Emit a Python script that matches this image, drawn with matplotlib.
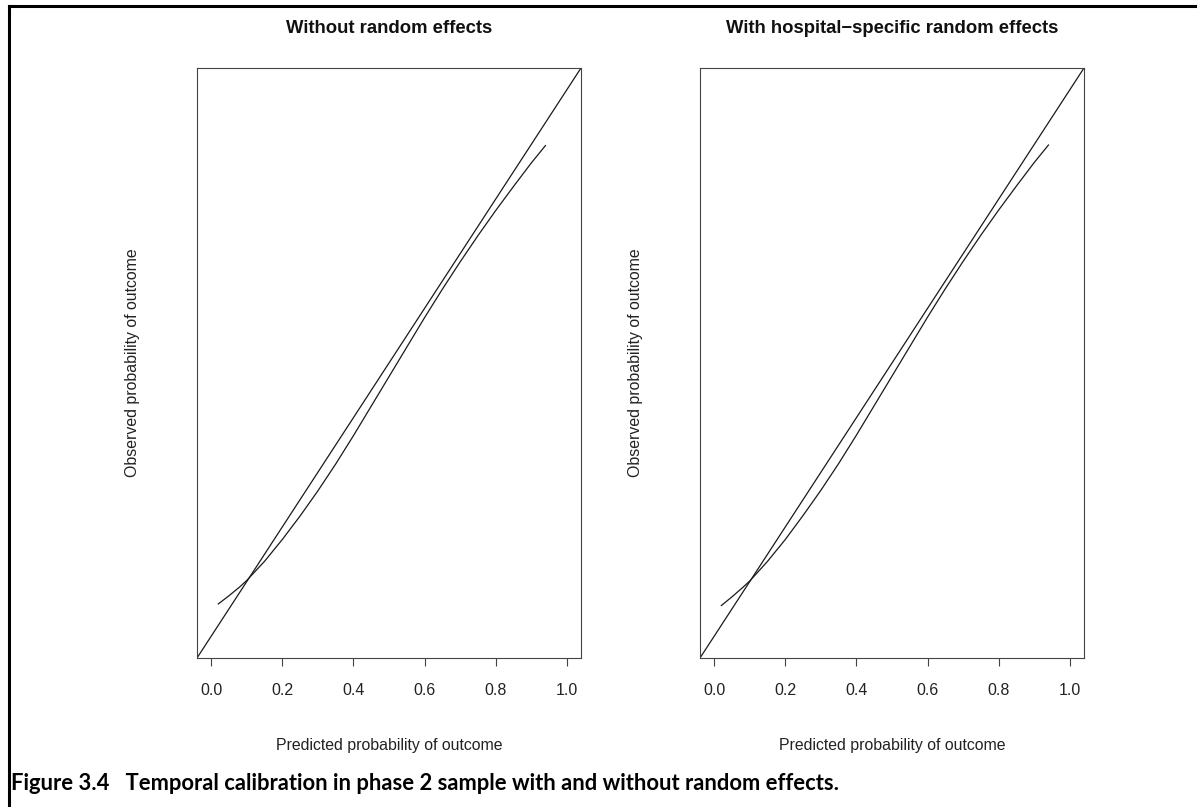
import numpy as np
import matplotlib
matplotlib.use("Agg")
import matplotlib.pyplot as plt
from matplotlib.lines import Line2D

# smoothed calibration curves (predicted vs observed probability)
pred_fixed = [0.02, 0.05, 0.08, 0.10, 0.15, 0.20, 0.25, 0.30, 0.35, 0.40, 0.45,
              0.50, 0.55, 0.60, 0.65, 0.70, 0.75, 0.80, 0.85, 0.90, 0.94]
obs_fixed = [0.059, 0.074, 0.090, 0.102, 0.137, 0.177, 0.220, 0.266, 0.315, 0.367, 0.421,
             0.475, 0.529, 0.583, 0.635, 0.685, 0.733, 0.779, 0.823, 0.866, 0.898]

pred_random = [0.02, 0.05, 0.08, 0.10, 0.15, 0.20, 0.25, 0.30, 0.35, 0.40, 0.45,
               0.50, 0.55, 0.60, 0.65, 0.70, 0.75, 0.80, 0.85, 0.90, 0.94]
obs_random = [0.056, 0.072, 0.089, 0.101, 0.137, 0.177, 0.221, 0.267, 0.316, 0.368, 0.422,
              0.476, 0.530, 0.584, 0.636, 0.686, 0.734, 0.780, 0.824, 0.867, 0.899]

titles = ["Without random effects", "With hospital\u2212specific random effects"]
xticks = [0.0, 0.2, 0.4, 0.6, 0.8, 1.0]

plt.rcParams['font.family'] = ['Liberation Sans', 'DejaVu Sans']

W, H = 1198, 807
fig = plt.figure(figsize=(W / 100, H / 100), dpi=100)

panels = [(197, pred_fixed, obs_fixed), (700, pred_random, obs_random)]
for (left_px, px, py), title in zip(panels, titles):
    ax = fig.add_axes([left_px / W, 1 - 658 / H, 384 / W, 590 / H])
    ax.axline((0, 0), (1, 1), color='#1a1a1a', lw=0.9)
    ax.plot(px, py, color='#1a1a1a', lw=0.9)
    ax.set_xlim(-0.04, 1.04)
    ax.set_ylim(-0.04, 1.04)
    ax.set_xticks(xticks)
    ax.set_xticklabels([f"{t:.1f}" for t in xticks], fontsize=11.5, color='#222')
    ax.set_yticks([])
    ax.tick_params(axis='x', direction='out', length=5.5, width=0.8, color='#444', pad=12.5)
    for s in ax.spines.values():
        s.set_color('#444')
        s.set_linewidth(0.8)
    ax.set_title(title, fontsize=13.3, fontweight='bold', pad=25, color='#111')
    ax.set_xlabel("Predicted probability of outcome", fontsize=11.4, labelpad=29, color='#222')
    ax.set_ylabel("Observed probability of outcome", fontsize=11.4, labelpad=41, color='#222')

# page frame and figure caption
fig.add_artist(Line2D([8.5 / W, 1195 / W], [1 - 6 / H, 1 - 6 / H], color='black', lw=2.2,
                      transform=fig.transFigure))
fig.add_artist(Line2D([8.5 / W, 8.5 / W], [0, 1 - 6 / H], color='black', lw=2.2,
                      transform=fig.transFigure))
fig.text(11 / W, 1 - 783 / H,
         "Figure 3.4   Temporal calibration in phase 2 sample with and without random effects.",
         fontsize=15.85, fontweight='bold', family=['Lato', 'DejaVu Sans'], va='center', ha='left')

fig.savefig("out.png", dpi=100)
